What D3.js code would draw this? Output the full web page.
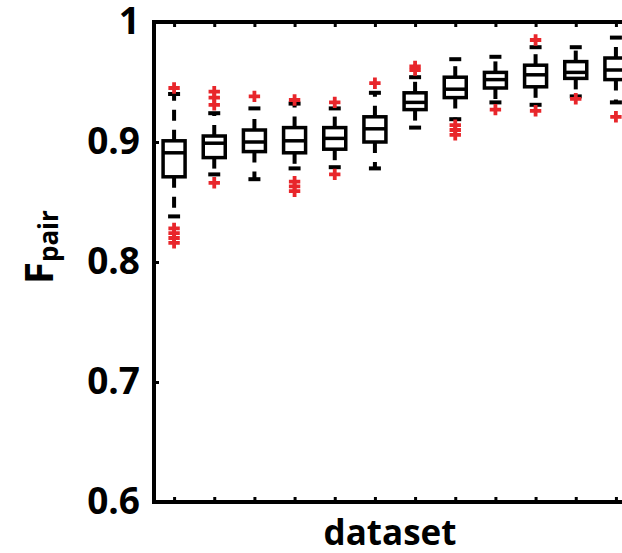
<!DOCTYPE html>
<html>
<head>
<meta charset="utf-8">
<script src="https://cdn.jsdelivr.net/npm/d3@7/dist/d3.min.js"></script>
<style>
  html, body { margin: 0; padding: 0; background: #fff; overflow: hidden; }
  svg { display: block; }
  text { font-family: "Open Sans", "Lato", sans-serif; font-weight: 700; fill: #000; }
</style>
</head>
<body>
<svg id="chart" width="622" height="553"></svg>
<script>
// Pair fidelity per dataset: box statistics
const datasets    = ["1", "2", "3", "4", "5", "6", "7", "8", "9", "10", "11", "12"];
const whiskerLow  = [0.838, 0.873, 0.869, 0.878, 0.879, 0.878, 0.912, 0.919, 0.933, 0.931, 0.938, 0.933];
const q1          = [0.871, 0.887, 0.892, 0.891, 0.894, 0.900, 0.927, 0.937, 0.945, 0.946, 0.953, 0.952];
const medians     = [0.891, 0.899, 0.900, 0.901, 0.903, 0.911, 0.933, 0.944, 0.952, 0.956, 0.958, 0.960];
const q3          = [0.901, 0.905, 0.910, 0.912, 0.912, 0.921, 0.941, 0.954, 0.958, 0.964, 0.967, 0.970];
const whiskerHigh = [0.940, 0.924, 0.928, 0.932, 0.928, 0.941, 0.954, 0.969, 0.971, 0.979, 0.979, 0.987];
const outliers = [
  [0.945, 0.828, 0.824, 0.820, 0.816],
  [0.942, 0.937, 0.931, 0.866],
  [0.938],
  [0.935, 0.867, 0.863, 0.859],
  [0.933, 0.873],
  [0.949],
  [0.963, 0.960],
  [0.914, 0.910, 0.906],
  [0.927],
  [0.985, 0.926],
  [0.936],
  [0.921]
];
const yTicks      = [0.6, 0.7, 0.8, 0.9, 1];
const yTickLabels = ["0.6", "0.7", "0.8", "0.9", "1"];

const margin = { left: 154, top: 22, bottom: 502, right: 636 };
const svg = d3.select("#chart");

const x = d3.scaleLinear()
  .domain([0.5, datasets.length + 0.5])
  .range([margin.left, margin.right]);
const y = d3.scaleLinear()
  .domain([0.6, 1])
  .range([margin.bottom, margin.top]);

const rows = datasets.map((d, i) => ({
  i: i + 1, lo: whiskerLow[i], q1: q1[i], med: medians[i], q3: q3[i], hi: whiskerHigh[i], out: outliers[i]
}));

// Axes with inward ticks
const yAxis = d3.axisLeft(y)
  .tickValues(yTicks)
  .tickFormat((d, i) => yTickLabels[i])
  .tickSizeInner(-5).tickSizeOuter(0).tickPadding(14);
const gy = svg.append("g").attr("transform", `translate(${margin.left},0)`).call(yAxis);
gy.select(".domain").remove();
gy.selectAll(".tick line").attr("stroke", "#000").attr("stroke-width", 3);
gy.selectAll(".tick text")
  .style("font-family", "'Open Sans', sans-serif").style("font-weight", 700)
  .style("font-size", "37px").attr("fill", "#000");

const xb = d3.axisBottom(x).tickValues(rows.map(r => r.i)).tickFormat("").tickSizeInner(-5).tickSizeOuter(0);
const gxb = svg.append("g").attr("transform", `translate(0,${margin.bottom})`).call(xb);
gxb.select(".domain").remove();
gxb.selectAll(".tick line").attr("stroke", "#000").attr("stroke-width", 3);

const xt = d3.axisTop(x).tickValues(rows.map(r => r.i)).tickFormat("").tickSizeInner(-5).tickSizeOuter(0);
const gxt = svg.append("g").attr("transform", `translate(0,${margin.top})`).call(xt);
gxt.select(".domain").remove();
gxt.selectAll(".tick line").attr("stroke", "#000").attr("stroke-width", 3);

// Plot frame
svg.append("rect")
  .attr("x", margin.left).attr("y", margin.top)
  .attr("width", margin.right - margin.left).attr("height", margin.bottom - margin.top)
  .attr("fill", "none").attr("stroke", "#000").attr("stroke-width", 4);

// Boxes
const boxW = 22, capW = 12;
const g = svg.append("g");
const box = g.selectAll("g.box").data(rows).join("g").attr("class", "box");

box.append("line")
  .attr("x1", d => x(d.i)).attr("x2", d => x(d.i))
  .attr("y1", d => y(d.q3)).attr("y2", d => y(d.hi))
  .attr("stroke", "#000").attr("stroke-width", 4).attr("stroke-dasharray", "11,9");
box.append("line")
  .attr("x1", d => x(d.i)).attr("x2", d => x(d.i))
  .attr("y1", d => y(d.q1)).attr("y2", d => y(d.lo))
  .attr("stroke", "#000").attr("stroke-width", 4).attr("stroke-dasharray", "11,9");
box.append("line")
  .attr("x1", d => x(d.i) - capW / 2).attr("x2", d => x(d.i) + capW / 2)
  .attr("y1", d => y(d.hi)).attr("y2", d => y(d.hi))
  .attr("stroke", "#000").attr("stroke-width", 4);
box.append("line")
  .attr("x1", d => x(d.i) - capW / 2).attr("x2", d => x(d.i) + capW / 2)
  .attr("y1", d => y(d.lo)).attr("y2", d => y(d.lo))
  .attr("stroke", "#000").attr("stroke-width", 4);
box.append("rect")
  .attr("x", d => x(d.i) - boxW / 2).attr("width", boxW)
  .attr("y", d => y(d.q3)).attr("height", d => y(d.q1) - y(d.q3))
  .attr("fill", "#fff").attr("stroke", "#000").attr("stroke-width", 3.5);
box.append("line")
  .attr("x1", d => x(d.i) - boxW / 2).attr("x2", d => x(d.i) + boxW / 2)
  .attr("y1", d => y(d.med)).attr("y2", d => y(d.med))
  .attr("stroke", "#000").attr("stroke-width", 3.5);

// Outliers
const plus = d3.symbol(d3.symbolCross, 72);
box.selectAll("path.out").data(d => d.out.map(v => ({ i: d.i, v }))).join("path")
  .attr("class", "out")
  .attr("d", plus)
  .attr("transform", d => `translate(${x(d.i)},${y(d.v)})`)
  .attr("fill", "#e8262b");

// Axis titles
svg.append("text")
  .attr("x", 390).attr("y", 545)
  .attr("text-anchor", "middle")
  .style("font-size", "35px")
  .text("dataset");

const yl = svg.append("text")
  .attr("transform", "translate(53,284) rotate(-90)")
  .attr("text-anchor", "start")
  .style("font-size", "40px");
yl.append("tspan").text("F");
yl.append("tspan").attr("dy", 5).style("font-size", "26px").text("pair");
</script>
</body>
</html>
